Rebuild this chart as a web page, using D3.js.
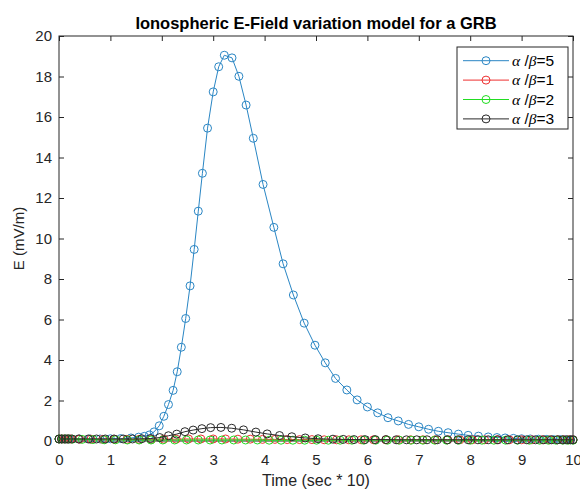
<!DOCTYPE html>
<html>
<head>
<meta charset="utf-8">
<script src="https://cdn.jsdelivr.net/npm/d3@7"></script>
<style>
  body { margin: 0; background: #fff; }
  text { font-family: "Liberation Sans", Arial, sans-serif; }
</style>
</head>
<body>
<div id="chart"></div>
<script>
// Data (time in sec*10, field in mV/m)
const tBlue = [0, 0.05, 0.1, 0.15, 0.2, 0.4, 0.6, 0.8, 1.0, 1.2, 1.4, 1.55, 1.66, 1.76, 1.85,
  1.95, 2.04, 2.13, 2.22, 2.30, 2.38, 2.465, 2.55, 2.63, 2.71, 2.79, 2.89, 3.00, 3.107, 3.216,
  3.366, 3.50, 3.64, 3.78, 3.97, 4.18, 4.36, 4.56, 4.77, 4.98, 5.18, 5.38, 5.60, 5.80, 6.00,
  6.20, 6.40, 6.60, 6.80, 7.00, 7.19, 7.38, 7.57, 7.77, 7.96, 8.16, 8.35, 8.52, 8.68, 8.84,
  9.00, 9.17, 9.33, 9.49, 9.62, 9.75, 9.85, 9.95, 10];
const eBlue = [0.1, 0.1, 0.1, 0.1, 0.1, 0.1, 0.1, 0.1, 0.11, 0.12, 0.15, 0.19, 0.23, 0.3, 0.45,
  0.75, 1.22, 1.8, 2.5, 3.42, 4.63, 6.05, 7.66, 9.46, 11.35, 13.22, 15.45, 17.24, 18.48, 19.05,
  18.92, 18.01, 16.59, 14.95, 12.67, 10.55, 8.75, 7.21, 5.82, 4.73, 3.86, 3.09, 2.52, 2.03, 1.68,
  1.39, 1.15, 0.99, 0.82, 0.7, 0.58, 0.48, 0.41, 0.34, 0.28, 0.24, 0.2, 0.17, 0.15, 0.13,
  0.11, 0.1, 0.09, 0.08, 0.07, 0.07, 0.06, 0.06, 0.06];

const tRed = [0, 0.05, 0.1, 0.16, 0.22, 0.4, 0.62, 0.85, 1.08, 1.32, 1.56, 1.8, 2.04, 2.28, 2.52,
  2.76, 3.0, 3.24, 3.48, 3.72, 3.96, 4.2, 4.44, 4.68, 4.92, 5.16, 5.4, 5.64, 5.88, 6.12,
  6.36, 6.6, 6.84, 7.08, 7.32, 7.56, 7.8, 8.04, 8.28, 8.52, 8.76, 9.0, 9.2, 9.4, 9.55,
  9.7, 9.82, 9.92, 10];
const eRed = [0.1, 0.1, 0.1, 0.1, 0.1, 0.09, 0.09, 0.08, 0.08, 0.08, 0.08, 0.08, 0.09, 0.09, 0.1,
  0.1, 0.1, 0.1, 0.09, 0.09, 0.08, 0.08, 0.07, 0.07, 0.07, 0.06, 0.06, 0.06, 0.06, 0.06,
  0.06, 0.06, 0.06, 0.06, 0.06, 0.06, 0.06, 0.06, 0.06, 0.06, 0.06, 0.06, 0.06, 0.06, 0.06,
  0.06, 0.06, 0.06, 0.06];

const tGreen = [0, 0.06, 0.12, 0.18, 0.26, 0.45, 0.66, 0.88, 1.1, 1.33, 1.56, 1.79, 2.02, 2.25, 2.48,
  2.71, 2.94, 3.17, 3.4, 3.63, 3.86, 4.09, 4.32, 4.55, 4.78, 5.01, 5.24, 5.47, 5.7, 5.93,
  6.16, 6.39, 6.62, 6.85, 7.08, 7.31, 7.54, 7.77, 8.0, 8.23, 8.46, 8.69, 8.92, 9.15, 9.35,
  9.52, 9.67, 9.8, 9.9, 10];
const eGreen = [0.1, 0.1, 0.1, 0.1, 0.09, 0.08, 0.07, 0.06, 0.06, 0.05, 0.05, 0.05, 0.05, 0.05, 0.05,
  0.05, 0.05, 0.05, 0.05, 0.05, 0.05, 0.04, 0.04, 0.04, 0.04, 0.04, 0.04, 0.04, 0.04, 0.04,
  0.04, 0.04, 0.04, 0.04, 0.04, 0.04, 0.04, 0.04, 0.04, 0.04, 0.04, 0.04, 0.04, 0.04, 0.04,
  0.04, 0.04, 0.04, 0.04, 0.04];

const tBlack = [0, 0.05, 0.12, 0.18, 0.25, 0.38, 0.57, 0.73, 0.9, 1.07, 1.25, 1.43, 1.61, 1.78, 1.96,
  2.13, 2.29, 2.45, 2.61, 2.78, 2.95, 3.15, 3.36, 3.59, 3.83, 4.05, 4.29, 4.53, 4.79, 5.04,
  5.33, 5.53, 5.74, 5.95, 6.15, 6.36, 6.56, 6.76, 6.96, 7.16, 7.36, 7.56, 7.76, 7.96, 8.15,
  8.35, 8.54, 8.73, 8.92, 9.1, 9.27, 9.43, 9.58, 9.7, 9.8, 9.88, 9.95, 10];
const eBlack = [0.1, 0.1, 0.1, 0.1, 0.1, 0.1, 0.1, 0.1, 0.1, 0.1, 0.1, 0.1, 0.11, 0.12, 0.17,
  0.26, 0.34, 0.46, 0.54, 0.61, 0.66, 0.67, 0.63, 0.55, 0.44, 0.35, 0.27, 0.21, 0.15, 0.11,
  0.09, 0.08, 0.07, 0.07, 0.07, 0.07, 0.06, 0.06, 0.06, 0.06, 0.06, 0.06, 0.06, 0.06, 0.06,
  0.06, 0.06, 0.06, 0.06, 0.06, 0.06, 0.06, 0.06, 0.06, 0.06, 0.06, 0.06, 0.06];

const seriesNames = ["5", "1", "2", "3"];
const seriesColors = ["#2a86c4", "#ee3030", "#22dd22", "#2a2a2a"];
const xTicks = d3.range(0, 11, 1);
const yTicks = d3.range(0, 21, 2);

const series = [
  { name: seriesNames[0], color: seriesColors[0], t: tBlue, e: eBlue },
  { name: seriesNames[1], color: seriesColors[1], t: tRed, e: eRed },
  { name: seriesNames[2], color: seriesColors[2], t: tGreen, e: eGreen },
  { name: seriesNames[3], color: seriesColors[3], t: tBlack, e: eBlack },
].map(s => ({ ...s, points: s.t.map((t, i) => ({ t, e: s.e[i] })) }));

// Layout
const width = 580;
const height = 491;
const plot = { left: 59, right: 573, top: 36, bottom: 441 };
const axisColor = "#262626";

const svg = d3.select("#chart")
  .append("svg")
  .attr("width", width)
  .attr("height", height);

// Scales
const x = d3.scaleLinear().domain([0, 10]).range([plot.left, plot.right]);
const y = d3.scaleLinear().domain([0, 20]).range([plot.bottom, plot.top]);

// Axes with inward ticks on all four sides (box on)
const fontSize = 15;
svg.append("g")
  .attr("transform", `translate(0,${plot.bottom})`)
  .call(d3.axisBottom(x).tickValues(xTicks).tickSizeInner(-5).tickSizeOuter(0).tickPadding(13))
  .call(g => g.select(".domain").remove());

svg.append("g")
  .attr("transform", `translate(${plot.left},0)`)
  .call(d3.axisLeft(y).tickValues(yTicks).tickSizeInner(-5).tickSizeOuter(0).tickPadding(7))
  .call(g => g.select(".domain").remove());

svg.append("g")
  .attr("transform", `translate(0,${plot.top})`)
  .call(d3.axisTop(x).tickValues(xTicks).tickSizeInner(-5).tickSizeOuter(0).tickFormat(""))
  .call(g => g.select(".domain").remove());

svg.append("g")
  .attr("transform", `translate(${plot.right},0)`)
  .call(d3.axisRight(y).tickValues(yTicks).tickSizeInner(-5).tickSizeOuter(0).tickFormat(""))
  .call(g => g.select(".domain").remove());

svg.selectAll(".tick line").attr("stroke", axisColor);
svg.selectAll(".tick text")
  .attr("fill", axisColor)
  .style("font-size", fontSize + "px")
  .style("font-family", '"Liberation Sans", Arial, sans-serif');

svg.append("rect")
  .attr("x", plot.left)
  .attr("y", plot.top)
  .attr("width", plot.right - plot.left)
  .attr("height", plot.bottom - plot.top)
  .attr("fill", "none")
  .attr("stroke", axisColor)
  .attr("stroke-width", 1);

// Lines and circle markers
const line = d3.line()
  .x(d => x(d.t))
  .y(d => y(d.e));

series.forEach(s => {
  const g = svg.append("g");
  g.append("path")
    .datum(s.points)
    .attr("fill", "none")
    .attr("stroke", s.color)
    .attr("stroke-width", 1)
    .attr("d", line);
  g.selectAll("circle")
    .data(s.points)
    .join("circle")
    .attr("cx", d => x(d.t))
    .attr("cy", d => y(d.e))
    .attr("r", 4)
    .attr("fill", "none")
    .attr("stroke", s.color)
    .attr("stroke-width", 1);
});

// Title and axis labels
svg.append("text")
  .attr("x", (plot.left + plot.right) / 2)
  .attr("y", 29)
  .attr("text-anchor", "middle")
  .attr("font-weight", "bold")
  .attr("font-size", 16.5)
  .attr("fill", "#000")
  .text("Ionospheric E-Field variation model for a GRB");

svg.append("text")
  .attr("x", (plot.left + plot.right) / 2)
  .attr("y", 486)
  .attr("text-anchor", "middle")
  .attr("font-size", 16)
  .attr("fill", axisColor)
  .text("Time (sec * 10)");

svg.append("text")
  .attr("transform", `translate(24,${(plot.top + plot.bottom) / 2}) rotate(-90)`)
  .attr("text-anchor", "middle")
  .attr("font-size", fontSize)
  .attr("fill", axisColor)
  .text("E (mV/m)");

// Legend
const legend = svg.append("g");
legend.append("rect")
  .attr("x", 457)
  .attr("y", 47)
  .attr("width", 111)
  .attr("height", 82)
  .attr("fill", "#fff")
  .attr("stroke", axisColor)
  .attr("stroke-width", 1);

series.forEach((s, i) => {
  const ly = 60.7 + i * 19.4;
  legend.append("line")
    .attr("x1", 463).attr("x2", 509)
    .attr("y1", ly).attr("y2", ly)
    .attr("stroke", s.color)
    .attr("stroke-width", 1);
  legend.append("circle")
    .attr("cx", 486).attr("cy", ly)
    .attr("r", 4)
    .attr("fill", "none")
    .attr("stroke", s.color);
  const label = legend.append("text")
    .attr("x", 512)
    .attr("y", ly + 5)
    .attr("font-size", 15.5)
    .attr("fill", "#000");
  label.append("tspan")
    .attr("font-family", '"Liberation Serif", serif')
    .attr("font-style", "italic")
    .text("α");
  label.append("tspan").text(" /");
  label.append("tspan")
    .attr("font-family", '"Liberation Serif", serif')
    .attr("font-style", "italic")
    .text("β");
  label.append("tspan").text("=" + s.name);
});
</script>
</body>
</html>
